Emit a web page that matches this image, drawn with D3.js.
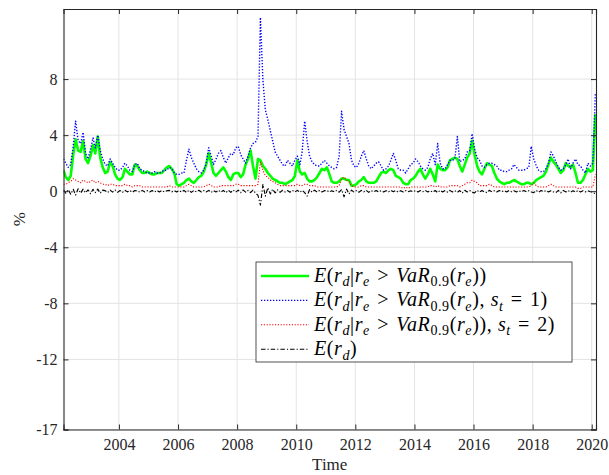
<!DOCTYPE html>
<html>
<head>
<meta charset="utf-8">
<script src="https://cdn.jsdelivr.net/npm/d3@7"></script>
<style>
	body { margin: 0; background: #fff; }
</style>
</head>
<body>
<div id="chart"></div>
<script>

// monthly observations, first one is Feb 2002 (one row per year)
const firstMonth = [2002, 1];

const condAll = [
	1.5, 1.0, 0.8, 1.1, 2.6, 3.7, 2.9, 2.8, 3.6, 2.3, 2.0,
	2.5, 3.3, 2.7, 3.9, 2.4, 1.7, 1.3, 1.4, 2.1, 1.8, 1.2, 0.9,
	0.8, 1.0, 1.6, 1.4, 1.2, 1.2, 1.9, 1.8, 1.5, 1.3, 1.3, 1.4,
	1.3, 1.2, 1.2, 1.3, 1.3, 1.3, 1.5, 1.7, 1.8, 1.6, 1.3, 0.5,
	0.4, 0.5, 0.6, 0.8, 0.9, 0.7, 0.6, 0.8, 1.0, 1.1, 1.4, 1.9,
	2.7, 2.0, 1.3, 1.1, 1.3, 1.5, 1.7, 1.4, 1.0, 0.8, 1.2, 1.3,
	1.3, 1.0, 1.2, 1.9, 2.3, 2.9, 1.8, 0.9, 2.3, 2.2, 1.8, 1.6,
	1.3, 1.1, 0.9, 0.8, 0.7, 0.6, 0.6, 0.5, 0.6, 0.7, 0.8, 1.1,
	2.2, 1.4, 1.2, 1.3, 0.9, 0.7, 0.7, 0.8, 1.0, 1.3, 1.6, 1.5,
	1.7, 1.2, 0.7, 0.6, 0.6, 0.7, 0.9, 0.9, 0.8, 0.8, 0.4, 0.4,
	0.5, 0.7, 0.8, 1.0, 0.7, 0.6, 0.6, 0.6, 0.7, 1.0, 1.3, 1.4,
	1.3, 1.5, 1.6, 1.5, 1.1, 1.0, 0.9, 0.6, 0.5, 0.5, 0.8, 0.9,
	1.1, 1.4, 1.6, 1.2, 0.9, 1.2, 1.6, 1.2, 0.7, 1.9, 1.6, 1.5,
	1.5, 1.7, 2.2, 2.3, 2.4, 2.3, 1.8, 1.4, 1.9, 2.4, 2.7, 3.6,
	2.6, 1.8, 1.4, 1.2, 1.6, 2.0, 1.9, 1.8, 1.3, 0.9, 0.7, 0.6,
	0.5, 0.6, 0.6, 0.7, 0.8, 0.7, 0.6, 0.5, 0.5, 0.6, 0.6, 0.5,
	0.6, 0.8, 0.9, 1.0, 1.1, 1.4, 1.9, 2.4, 2.1, 1.9, 1.6, 1.3,
	1.5, 2.0, 1.8, 1.7, 1.9, 1.3, 0.6, 0.6, 0.8, 1.2, 1.6, 1.4,
	1.5, 5.5
];

const condState1 = [
	2.3, 2.0, 1.7, 1.9, 3.2, 5.0, 3.6, 3.4, 4.2, 2.7, 2.3,
	3.0, 3.8, 3.1, 4.0, 2.9, 2.3, 1.9, 1.8, 2.3, 2.0, 1.7, 1.5,
	1.5, 1.7, 2.0, 1.8, 1.5, 1.4, 1.9, 2.0, 1.6, 1.5, 1.4, 1.3,
	1.3, 1.3, 1.4, 1.3, 1.3, 1.4, 1.5, 1.5, 1.7, 1.6, 1.3, 1.2,
	1.2, 1.3, 1.3, 2.2, 3.0, 2.4, 2.0, 1.6, 1.4, 1.3, 1.5, 2.0,
	3.1, 2.5, 1.9, 2.3, 2.7, 2.9, 2.4, 2.0, 2.4, 2.7, 2.6, 3.1,
	3.2, 2.6, 2.3, 2.0, 2.5, 3.1, 3.4, 3.5, 3.9, 12.4, 7.9, 5.8,
	5.1, 4.3, 3.6, 2.8, 2.5, 2.2, 1.9, 1.8, 2.2, 2.0, 1.8, 2.2,
	2.5, 1.9, 2.8, 5.0, 3.6, 2.5, 2.1, 1.9, 1.8, 1.8, 2.0, 2.2,
	2.0, 1.8, 1.7, 1.6, 1.7, 2.5, 5.7, 4.4, 3.9, 3.4, 2.2, 1.8,
	1.7, 2.0, 2.5, 2.9, 2.3, 1.8, 1.6, 1.8, 2.0, 2.1, 1.8, 1.5,
	1.6, 1.8, 2.2, 2.7, 2.2, 1.6, 1.5, 1.5, 1.3, 1.6, 1.9, 2.0,
	2.3, 2.1, 1.8, 1.6, 1.5, 1.7, 2.3, 2.7, 1.9, 3.4, 2.0, 1.6,
	1.6, 1.9, 2.2, 2.2, 2.3, 3.9, 2.1, 2.2, 2.3, 2.8, 2.9, 4.1,
	3.0, 2.4, 2.2, 1.8, 1.7, 1.9, 2.0, 2.0, 1.9, 1.8, 1.5, 1.5,
	1.4, 1.4, 1.5, 1.6, 1.9, 1.7, 1.5, 1.5, 1.5, 1.6, 1.7, 3.2,
	2.3, 1.8, 1.5, 1.4, 1.4, 1.6, 2.0, 2.8, 2.5, 2.1, 1.7, 1.5,
	1.6, 1.9, 2.3, 1.6, 2.0, 2.3, 1.9, 1.8, 1.5, 1.3, 2.0, 1.8,
	2.0, 7.0
];

const condState2 = [
	0.5, 0.5, 0.6, 0.7, 0.9, 0.8, 0.7, 0.6, 0.8, 0.7, 0.6,
	0.7, 0.8, 0.6, 0.7, 0.6, 0.5, 0.5, 0.4, 0.5, 0.5, 0.4, 0.4,
	0.4, 0.4, 0.5, 0.4, 0.4, 0.3, 0.4, 0.4, 0.4, 0.3, 0.3, 0.3,
	0.3, 0.3, 0.3, 0.3, 0.3, 0.3, 0.3, 0.3, 0.4, 0.3, 0.3, 0.3,
	0.3, 0.3, 0.3, 0.4, 0.5, 0.4, 0.3, 0.3, 0.3, 0.3, 0.3, 0.4,
	0.5, 0.4, 0.3, 0.3, 0.3, 0.4, 0.4, 0.4, 0.4, 0.4, 0.4, 0.5,
	0.5, 0.4, 0.4, 0.4, 0.4, 0.4, 0.4, 0.4, 0.5, 2.1, 1.5, 1.1,
	1.0, 0.8, 0.7, 0.6, 0.5, 0.4, 0.4, 0.4, 0.4, 0.4, 0.4, 0.4,
	0.5, 0.4, 0.4, 0.5, 0.5, 0.4, 0.4, 0.4, 0.3, 0.3, 0.3, 0.3,
	0.3, 0.3, 0.3, 0.3, 0.3, 0.4, 0.9, 1.0, 0.8, 0.7, 0.4, 0.3,
	0.3, 0.3, 0.4, 0.4, 0.3, 0.3, 0.3, 0.3, 0.3, 0.3, 0.3, 0.3,
	0.3, 0.3, 0.3, 0.3, 0.3, 0.3, 0.3, 0.2, 0.3, 0.2, 0.3, 0.3,
	0.3, 0.3, 0.3, 0.3, 0.3, 0.3, 0.4, 0.4, 0.3, 0.4, 0.3, 0.3,
	0.3, 0.3, 0.4, 0.4, 0.4, 0.4, 0.3, 0.4, 0.5, 0.6, 0.6, 0.8,
	0.7, 0.6, 0.4, 0.4, 0.4, 0.4, 0.5, 0.4, 0.3, 0.3, 0.3, 0.3,
	0.3, 0.3, 0.3, 0.3, 0.3, 0.3, 0.3, 0.3, 0.3, 0.3, 0.3, 0.4,
	0.6, 0.4, 0.3, 0.3, 0.3, 0.3, 0.4, 0.5, 0.4, 0.3, 0.3, 0.3,
	0.3, 0.3, 0.3, 0.3, 0.3, 0.3, 0.2, 0.2, 0.3, 0.3, 0.3, 0.3,
	0.3, 1.2
];

const uncond = [
	0.1, -0.15, 0.12, -0.22, 0.14, -0.28, 0.18, -0.14, 0.15, -0.12, 0.1,
	-0.18, 0.14, -0.1, 0.15, -0.14, 0.08, 0.04, -0.1, 0.08, -0.07, 0.09, -0.08,
	0.05, -0.08, 0.07, -0.05, 0.06, -0.08, 0.05, 0.03, -0.07, 0.06, -0.05, 0.05,
	-0.06, 0.05, -0.07, 0.06, -0.05, 0.05, -0.06, 0.03, 0.06, -0.05, 0.05, -0.06,
	0.05, -0.06, 0.06, -0.09, 0.07, -0.08, 0.06, -0.05, 0.07, -0.06, 0.05, -0.05,
	0.06, -0.09, 0.05, -0.06, 0.08, -0.07, 0.06, -0.11, 0.07, -0.08, 0.09, -0.07,
	0.08, -0.11, 0.09, -0.07, 0.06, -0.1, 0.08, -0.13, -0.3, -1.0, 0.5, -0.35,
	0.25, -0.2, 0.15, -0.12, 0.1, -0.08, 0.07, -0.06, 0.05, -0.07, 0.06, -0.05,
	0.06, -0.08, 0.07, -0.1, -0.35, 0.12, -0.07, 0.08, -0.06, 0.05, -0.05, 0.04,
	0.05, -0.06, 0.04, -0.05, 0.06, -0.07, 0.12, -0.4, 0.15, -0.2, 0.08, -0.06,
	0.05, -0.07, 0.06, -0.05, 0.07, -0.08, 0.05, -0.04, 0.05, -0.06, 0.04, -0.05,
	0.04, -0.05, 0.06, -0.04, 0.05, -0.07, 0.04, -0.05, 0.05, -0.04, 0.03, -0.04,
	0.04, -0.06, 0.05, -0.04, 0.06, -0.05, 0.04, -0.07, 0.05, -0.1, 0.06, -0.05,
	0.05, -0.07, 0.06, -0.05, 0.04, -0.08, 0.05, -0.14, 0.07, -0.06, 0.05, -0.08,
	-0.12, 0.06, -0.07, 0.05, -0.06, -0.1, 0.07, -0.05, 0.04, -0.06, 0.05, -0.04,
	0.04, -0.05, 0.05, -0.04, 0.04, -0.05, 0.04, -0.04, 0.05, -0.04, 0.04, -0.05,
	-0.1, 0.06, -0.08, 0.05, -0.04, 0.05, -0.06, 0.04, -0.05, -0.1, 0.06, -0.12,
	0.06, -0.05, 0.05, -0.07, 0.04, -0.06, 0.05, -0.05, 0.04, -0.05, 0.04, -0.04,
	-0.07, -0.2
];

const yTicks = [8, 4, 0, -4, -8, -12, -17];
const xTickYears = [2004, 2006, 2008, 2010, 2012, 2014, 2016, 2018, 2020];

// legend labels: [text, italic, subscript]
const legendLabels = [
	[['E', 1], ['(', 0], ['r', 1], ['d', 1, 1], ['|', 0], ['r', 1], ['e', 1, 1], ['\u2004>\u2004', 0], ['VaR', 1], ['0.9', 0, 1], ['(', 0], ['r', 1], ['e', 1, 1], ['))', 0]],
	[['E', 1], ['(', 0], ['r', 1], ['d', 1, 1], ['|', 0], ['r', 1], ['e', 1, 1], ['\u2004>\u2004', 0], ['VaR', 1], ['0.9', 0, 1], ['(', 0], ['r', 1], ['e', 1, 1], ['),\u00a0', 0], ['s', 1], ['t', 1, 1], ['\u2004=\u20041)', 0]],
	[['E', 1], ['(', 0], ['r', 1], ['d', 1, 1], ['|', 0], ['r', 1], ['e', 1, 1], ['\u2004>\u2004', 0], ['VaR', 1], ['0.9', 0, 1], ['(', 0], ['r', 1], ['e', 1, 1], [')),\u00a0', 0], ['s', 1], ['t', 1, 1], ['\u2004=\u20042)', 0]],
	[['E', 1], ['(', 0], ['r', 1], ['d', 1, 1], [')', 0]]
];

// ----------------------------------
// SETUP
// ----------------------------------

const serif = 'Liberation Serif';

const width = 609,
	height = 475,
	margin = {top: 9, right: 13, bottom: 45.5, left: 63.5},
	innerWidth = width - margin.left - margin.right,
	innerHeight = height - margin.top - margin.bottom;

const dates = condAll.map((d, i) => new Date(firstMonth[0], firstMonth[1] + i, 15));

const series = [
	{values: condAll, color: '#00ff00', width: 2.6, dash: null},
	{values: condState1, color: '#0000ff', width: 1.4, dash: '1.3 1.7'},
	{values: condState2, color: '#ff0000', width: 1.1, dash: '1.2 1.6'},
	{values: uncond, color: '#000000', width: 1.1, dash: '4.5 2 1.2 2'}
];

const xScale = d3.scaleTime()
	.domain([new Date(2002, 1, 15), new Date(2020, 1, 23)])
	.range([0, innerWidth]);

const yScale = d3.scaleLinear()
	.domain([-17, 13])
	.range([innerHeight, 0]);

const svg = d3.select('#chart')
	.append('svg')
	.attr('width', width)
	.attr('height', height)
	.style('display', 'block');

const g = svg.append('g')
	.attr('transform', `translate(${margin.left},${margin.top})`);

svg.append('defs').append('clipPath')
	.attr('id', 'plot-clip')
	.append('rect')
	.attr('width', innerWidth)
	.attr('height', innerHeight);

// ----------------------------------
// GRID
// ----------------------------------

const xTickDates = xTickYears.map(y => new Date(y, 0, 1));

const grid = g.append('g').attr('class', 'grid');

grid.selectAll('line.gx')
	.data(xTickDates)
	.join('line')
	.attr('class', 'gx')
	.attr('x1', d => xScale(d)).attr('x2', d => xScale(d))
	.attr('y1', 0).attr('y2', innerHeight);

grid.selectAll('line.gy')
	.data(yTicks)
	.join('line')
	.attr('class', 'gy')
	.attr('x1', 0).attr('x2', innerWidth)
	.attr('y1', d => yScale(d)).attr('y2', d => yScale(d));

grid.selectAll('line')
	.attr('stroke', '#e3e3e3')
	.attr('stroke-width', 1);

// ----------------------------------
// LINES
// ----------------------------------

const line = d3.line()
	.x((d, i) => xScale(dates[i]))
	.y(d => yScale(d));

g.append('g')
	.attr('clip-path', 'url(#plot-clip)')
	.selectAll('path')
	.data(series)
	.join('path')
	.attr('d', d => line(d.values))
	.attr('fill', 'none')
	.attr('stroke', d => d.color)
	.attr('stroke-width', d => d.width)
	.attr('stroke-dasharray', d => d.dash)
	.attr('stroke-linejoin', 'round');

// ----------------------------------
// AXES
// ----------------------------------

const axisColor = '#262626';

const xAxis = g.append('g')
	.attr('transform', `translate(0,${innerHeight})`)
	.call(d3.axisBottom(xScale).tickValues(xTickDates).tickFormat(d3.timeFormat('%Y')).tickSize(-5).tickPadding(9));

const xAxisTop = g.append('g')
	.call(d3.axisTop(xScale).tickValues(xTickDates).tickFormat('').tickSize(-5));

const yAxis = g.append('g')
	.call(d3.axisLeft(yScale).tickValues(yTicks).tickFormat(d => String(d)).tickSize(-5).tickPadding(6));

const yAxisRight = g.append('g')
	.attr('transform', `translate(${innerWidth},0)`)
	.call(d3.axisRight(yScale).tickValues(yTicks).tickFormat('').tickSize(-5));

[xAxis, xAxisTop, yAxis, yAxisRight].forEach(a => {
	a.attr('font-family', serif).attr('font-size', 16);
	a.select('.domain').attr('stroke', axisColor).attr('stroke-width', 1.1);
	a.selectAll('.tick line').attr('stroke', axisColor).attr('stroke-width', 1);
	a.selectAll('.tick text').attr('fill', '#262626').attr('font-family', serif);
});

svg.append('text')
	.attr('x', margin.left + innerWidth / 2)
	.attr('y', 470)
	.attr('text-anchor', 'middle')
	.attr('font-family', serif)
	.attr('font-size', 17)
	.attr('fill', '#262626')
	.text('Time');

svg.append('text')
	.attr('transform', `translate(25,${margin.top + innerHeight / 2}) rotate(-90)`)
	.attr('text-anchor', 'middle')
	.attr('font-family', serif)
	.attr('font-size', 17)
	.attr('fill', '#262626')
	.text('%');

// ----------------------------------
// LEGEND
// ----------------------------------

const legend = svg.append('g')
	.attr('transform', 'translate(256,262)');

legend.append('rect')
	.attr('width', 316)
	.attr('height', 100)
	.attr('fill', '#fff')
	.attr('stroke', '#262626')
	.attr('stroke-width', 0.8);

const fs = 20;

legendLabels.forEach((parts, i) => {
	const cy = 14 + i * 24.4;
	const s = series[i];
	legend.append('line')
		.attr('x1', 5).attr('x2', 53)
		.attr('y1', cy).attr('y2', cy)
		.attr('stroke', s.color)
		.attr('stroke-width', s.width)
		.attr('stroke-dasharray', s.dash);

	const t = legend.append('text')
		.attr('x', 58)
		.attr('y', cy + 6)
		.attr('font-family', serif)
		.attr('font-size', fs)
		.attr('letter-spacing', 0.6)
		.attr('fill', '#000');
	let low = false;
	parts.forEach(([txt, it, sub]) => {
		const ts = t.append('tspan')
			.text(txt)
			.attr('font-style', it ? 'italic' : 'normal');
		if (sub) ts.attr('font-size', fs * 0.7);
		if (sub && !low) { ts.attr('dy', fs * 0.22); low = true; }
		else if (!sub && low) { ts.attr('dy', -fs * 0.22); low = false; }
	});
});

</script>
</body>
</html>
